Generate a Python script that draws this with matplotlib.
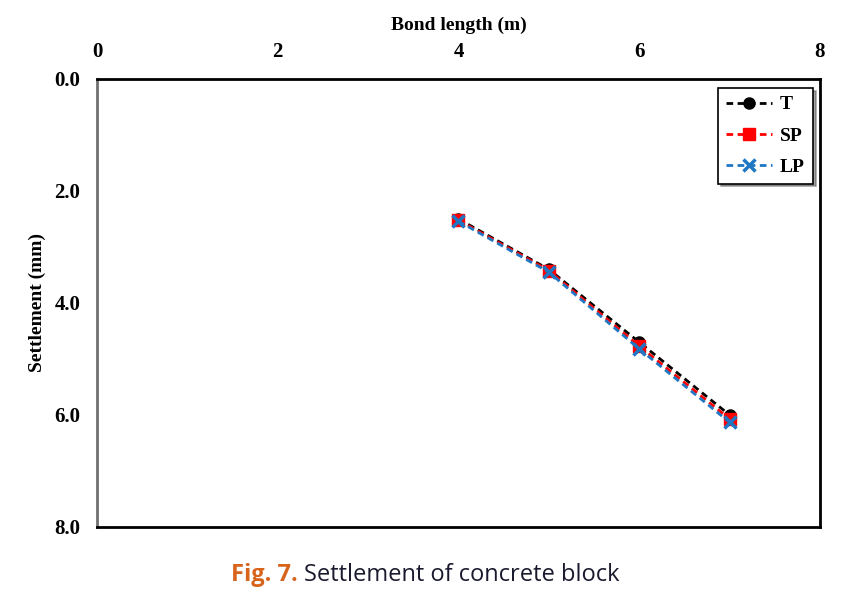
import matplotlib.pyplot as plt

bond_length = [4, 5, 6, 7]
settle_T = [2.50, 3.40, 4.70, 6.00]
settle_SP = [2.52, 3.42, 4.77, 6.07]
settle_LP = [2.54, 3.45, 4.82, 6.13]
x_ticks = [0, 2, 4, 6, 8]
y_ticks = [0, 2, 4, 6, 8]

plt.rcParams["font.family"] = "Liberation Serif"
plt.rcParams["font.weight"] = "bold"
plt.rcParams["lines.dashed_pattern"] = (2.4, 1.6)

fig = plt.figure(figsize=(8.52, 6.02), dpi=100)
ax = fig.add_axes([0.1138, 0.1246, 0.8486, 0.7442])

ax.plot(bond_length, settle_T, "--o", color="black", lw=2, ms=8, label="T")
ax.plot(bond_length, settle_SP, "--s", color="#ff0000", lw=2, ms=8, label="SP")
ax.plot(bond_length, settle_LP, "--x", color="#1f77c4", lw=2, ms=9, mew=2.5, label="LP")

ax.set_xlim(0, 8)
ax.set_ylim(8, 0)
ax.set_xticks(x_ticks)
ax.set_yticks(y_ticks)
ax.set_yticklabels([f"{v:.1f}" for v in y_ticks])
ax.xaxis.tick_top()
ax.xaxis.set_label_position("top")
ax.tick_params(length=0, labelsize=15)
ax.tick_params(axis="x", pad=12)
ax.tick_params(axis="y", pad=12)
ax.set_xlabel("Bond length (m)", fontsize=14, fontweight="bold", labelpad=9)
ax.set_ylabel("Settlement (mm)", fontsize=14, fontweight="bold", labelpad=6)

for s in ax.spines.values():
    s.set_linewidth(2)
    s.set_color("black")
ax.spines["left"].set_color("#707070")

leg = ax.legend(loc="upper right", fontsize=14, frameon=True, fancybox=False,
                shadow=True, handlelength=2.4, handletextpad=0.4, borderpad=0.4,
                labelspacing=0.7, borderaxespad=0, bbox_to_anchor=(0.99, 0.98))
leg.get_frame().set_edgecolor("black")
leg.get_frame().set_linewidth(1.2)

fig.text(0.35, 0.045, "Fig. 7.", color="#d8641c", fontsize=17, fontweight="bold",
         family="Open Sans", ha="right", va="center")
fig.text(0.357, 0.045, "Settlement of concrete block", color="#1a1a2e", fontsize=17,
         fontweight="normal", family="Open Sans", ha="left", va="center")

fig.savefig("out.png", dpi=100)
